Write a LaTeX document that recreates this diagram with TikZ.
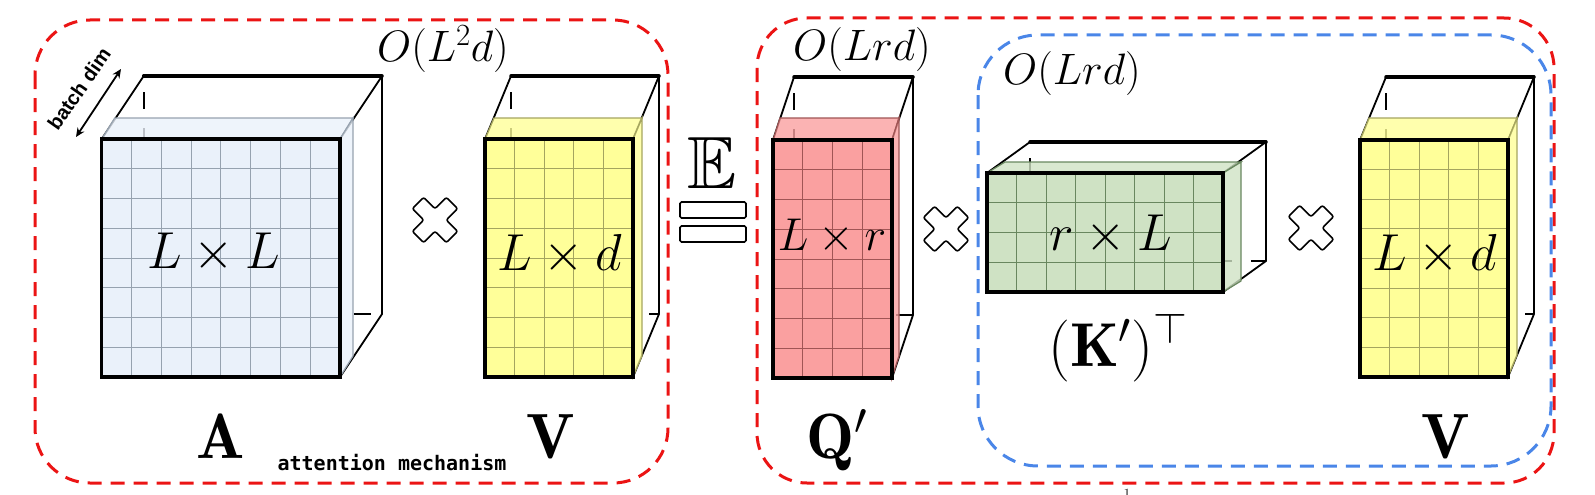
\documentclass[tikz,border=0pt]{standalone}
\usepackage{fix-cm}
\usepackage{amssymb}
\usepackage{fontspec}
\newfontfamily\batchfont{Liberation Sans}
\newfontfamily\mechfont{DejaVu Sans Mono}
\usetikzlibrary{calc,arrows.meta}
\definecolor{Afill}{RGB}{234,241,250}
\definecolor{Agrid}{RGB}{150,162,175}
\definecolor{Yfill}{RGB}{255,255,153}
\definecolor{Ygrid}{RGB}{165,165,95}
\definecolor{Rfill}{RGB}{250,160,160}
\definecolor{Rgrid}{RGB}{160,85,85}
\definecolor{Gfill}{RGB}{207,226,196}
\definecolor{Ggrid}{RGB}{105,135,95}
\definecolor{boxred}{RGB}{235,20,20}
\definecolor{boxblue}{RGB}{74,134,232}
\colorlet{cf}{Afill}
\colorlet{cg}{Agrid}
\newcommand\drawcube[5]{%
 \coordinate (#1ftl) at (#2,#3);
 \coordinate (#1ftr) at (#4,#3);
 \coordinate (#1fbl) at (#2,#5);
 \coordinate (#1fbr) at (#4,#5);
 \coordinate (#1btl) at ($(#1ftl)+(\cdx,\cdy)$);
 \coordinate (#1btr) at ($(#1ftr)+(\cdx,\cdy)$);
 \coordinate (#1bbl) at ($(#1fbl)+(\cdx,\cdy)$);
 \coordinate (#1bbr) at ($(#1fbr)+(\cdx,\cdy)$);
 \coordinate (#1stl) at ($(#1ftl)+(\csx,\csy)$);
 \coordinate (#1str) at ($(#1ftr)+(\csx,\csy)$);
 \coordinate (#1sbr) at ($(#1fbr)+(\csx,\csy)$);
 \draw[hidden] (#1btl) -- (#1bbl) -- (#1bbr);
 \draw[edge] (#1ftl) -- (#1btl);
 \draw[edge] (#1ftr) -- (#1btr) -- (#1bbr) -- (#1fbr);
 \draw[backedge] (#1btl) -- (#1btr);
 \filldraw[slab] (#1ftl) -- (#1stl) -- (#1str) -- (#1ftr) -- cycle;
 \filldraw[slab] (#1ftr) -- (#1str) -- (#1sbr) -- (#1fbr) -- cycle;
 \fill[cf] (#1ftl) rectangle (#1fbr);
 \pgfmathsetmacro\cw{(#4-#2)/\nc}
 \pgfmathsetmacro\ch{(#5-#3)/\nr}
 \pgfmathtruncatemacro\ncm{\nc-1}
 \pgfmathtruncatemacro\nrm{\nr-1}
 \foreach \i in {1,...,\ncm} {\draw[gridline] ({#2+\i*\cw},#3) -- ({#2+\i*\cw},#5);}
 \foreach \j in {1,...,\nrm} {\draw[gridline] (#2,{#3+\j*\ch}) -- (#4,{#3+\j*\ch});}
 \draw[front] (#1ftl) rectangle (#1fbr);
}
\newcommand\mulx[3]{%
 \coordinate (#1) at (#2,#3);
 \begin{scope}[shift={(#1)},rotate=45]
 \draw[xsign] (8,24)--(8,8)--(24,8)--(24,-8)--(8,-8)--(8,-24)--(-8,-24)--(-8,-8)--(-24,-8)--(-24,8)--(-8,8)--(-8,24)--cycle;
 \end{scope}
}
\begin{document}
\begin{tikzpicture}[x=1pt,y=-1pt,
 hidden/.style={line width=1.6pt, dash pattern=on 17pt off 19pt, dash phase=20pt},
 edge/.style={line width=1.8pt, line join=round},
 backedge/.style={line width=3.5pt, line cap=round},
 front/.style={line width=3.2pt},
 gridline/.style={line width=0.9pt, draw=cg},
 slab/.style={fill=cf, fill opacity=0.8, draw=cg, line width=1.2pt},
 xsign/.style={line width=1.6pt, fill=white, rounded corners=2pt, line join=round},
 eqbox/.style={line width=1.6pt, fill=white, rounded corners=1.5pt},
 redbox/.style={draw=boxred, line width=3pt, dash pattern=on 14pt off 9pt},
 bluebox/.style={draw=boxblue, line width=3pt, dash pattern=on 14pt off 9pt},
 mathlab/.style={inner sep=0pt, anchor=base, font=\fontsize{52}{58}\selectfont},
 cplx/.style={inner sep=0pt, font=\fontsize{44}{50}\selectfont},
 bigname/.style={inner sep=0pt, anchor=base, font=\fontsize{64}{70}\selectfont}]
\useasboundingbox (0,0) rectangle (1595,495);
% group boxes
\draw[redbox, rounded corners=55pt] (35,20) rectangle (668,483);
\draw[redbox, rounded corners=50pt] (757,18) rectangle (1554,483);
\draw[bluebox, rounded corners=60pt] (978,35) rectangle (1551,466);
% cubes
\def\cdx{42}\def\cdy{-63}\def\csx{13}\def\csy{-21}\def\nc{8}\def\nr{8}\colorlet{cf}{Afill}\colorlet{cg}{Agrid}
\drawcube{A}{101.7}{139}{340}{377}
\def\cdx{26}\def\cdy{-63}\def\csx{9}\def\csy{-21}\def\nc{5}\def\nr{8}\colorlet{cf}{Yfill}\colorlet{cg}{Ygrid}
\drawcube{V}{485}{139}{633}{377}
\def\cdx{21}\def\cdy{-63}\def\csx{7}\def\csy{-22}\def\nc{4}\def\nr{8}\colorlet{cf}{Rfill}\colorlet{cg}{Rgrid}
\drawcube{Q}{773}{140}{892}{378}
\def\cdx{43}\def\cdy{-31}\def\csx{18}\def\csy{-11}\def\nc{8}\def\nr{4}\colorlet{cf}{Gfill}\colorlet{cg}{Ggrid}
\drawcube{K}{987}{173}{1223}{292}
\def\cdx{26}\def\cdy{-63}\def\csx{9}\def\csy{-22}\def\nc{5}\def\nr{8}\colorlet{cf}{Yfill}\colorlet{cg}{Ygrid}
\drawcube{W}{1360}{140}{1508}{377}
% face labels
\node[mathlab] (labA) at (214,268) {$L\times L$};
\node[mathlab] (labV) at (560,270) {$L\times d$};
\node[mathlab, font=\fontsize{46}{52}\selectfont] (labQ) at (832,250) {$L\times r$};
\node[mathlab] (labK) at (1111,250) {$r\times L$};
\node[mathlab] (labW) at (1435,270) {$L\times d$};
% complexity labels
\node[cplx] (cA) at (443,49) {$O(L^2d)$};
\node[cplx] (cQ) at (862,50) {$O(Lrd)$};
\node[cplx] (cK) at (1072,74) {$O(Lrd)$};
% multiplication signs
\mulx{m1}{435}{220}
\mulx{m2}{946}{229}
\mulx{m3}{1311}{228}
% expectation equals
\node[inner sep=0pt, anchor=base, font=\fontsize{74}{80}\selectfont] (EE) at (712,188) {$\mathbb{E}$};
\draw[eqbox] (680,202) rectangle (746,218);
\draw[eqbox] (680,226) rectangle (746,242);
% names
\node[bigname] (nA) at (221,458) {$\mathbf{A}$};
\node[bigname] (nV) at (551,458) {$\mathbf{V}$};
\node[bigname, anchor=base west] (nQ) at (806,458) {$\mathbf{Q}'$};
\node[bigname] (nW) at (1446,458) {$\mathbf{V}$};
\node[inner sep=0pt, anchor=base west, font=\fontsize{62}{70}\selectfont] (nK) at (1048,366) {$(\mathbf{K}')^{\top}$};
\node[inner sep=0pt, anchor=base, font=\mechfont\bfseries\fontsize{20}{24}\selectfont] (mech) at (392,470) {attention mechanism};
% batch dim
\coordinate (bd1) at (76,137);
\coordinate (bd2) at (121,69);
\draw[line width=1.8pt, {Stealth[length=9pt,width=8pt]}-{Stealth[length=9pt,width=8pt]}] (bd1) -- (bd2);
\node[inner sep=0pt, rotate=55, font=\batchfont\bfseries\fontsize{20}{22}\selectfont] (bdl) at (79,89) {batch dim};
\node[inner sep=0pt, anchor=north, font=\fontsize{14}{14}\selectfont] (fn) at (1127,489) {1};
\end{tikzpicture}
\end{document}
